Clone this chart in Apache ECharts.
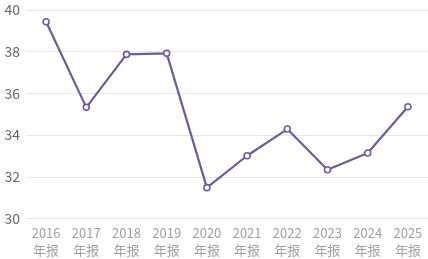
<!DOCTYPE html>
<html>
<head>
<meta charset="utf-8">
<script src="https://cdn.jsdelivr.net/npm/echarts@6/dist/echarts.min.js"></script>
<style>html,body{margin:0;padding:0;background:#fff}#c{width:428px;height:259px}</style>
</head>
<body>
<div id="c"></div>
<script>
var categories = ['2016\n年报','2017\n年报','2018\n年报','2019\n年报','2020\n年报','2021\n年报','2022\n年报','2023\n年报','2024\n年报','2025\n年报'];
var values = [39.44, 35.33, 37.87, 37.92, 31.48, 33.01, 34.29, 32.34, 33.14, 35.36];
var yTicks = {min: 30, max: 40, interval: 2};

var chart = echarts.init(document.getElementById('c'));
chart.setOption({
  animation: false,
  grid: {left: 26, right: 0, top: 10, bottom: 40.5, containLabel: false},
  xAxis: {
    type: 'category',
    data: categories,
    boundaryGap: true,
    axisLine: {lineStyle: {color: '#e6e6e6'}},
    axisTick: {show: false},
    axisLabel: {color: '#a0a0a0', fontSize: 13, lineHeight: 17, margin: 6, fontFamily: 'Noto Sans CJK SC'}
  },
  yAxis: {
    type: 'value',
    min: yTicks.min, max: yTicks.max, interval: yTicks.interval,
    axisLine: {show: false},
    axisTick: {show: false},
    splitLine: {lineStyle: {color: '#e6e6e6'}},
    axisLabel: {color: '#666', fontSize: 14, margin: 6, fontFamily: 'Noto Sans CJK SC'}
  },
  series: [{
    type: 'line',
    data: values,
    symbol: 'circle',
    symbolSize: 6,
    itemStyle: {color: '#fff', borderColor: '#6a5aa8', borderWidth: 1.6},
    lineStyle: {color: '#6a5aa8', width: 2.2}
  }]
});
</script>
</body>
</html>
